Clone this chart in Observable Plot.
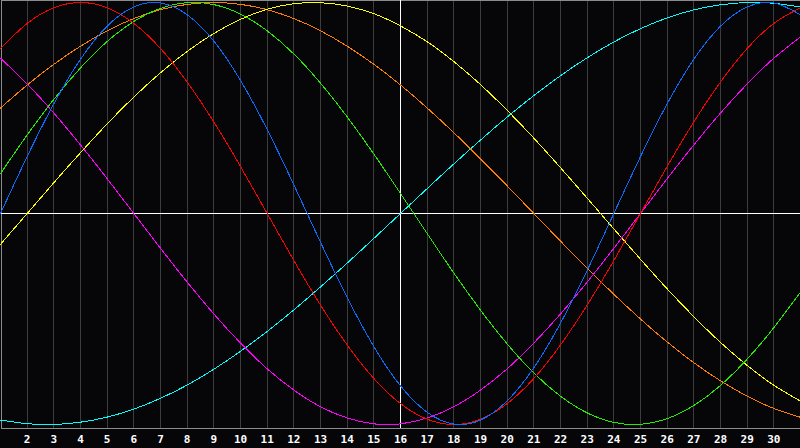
<!DOCTYPE html>
<html>
<head>
<meta charset="utf-8">
<script src="https://cdn.jsdelivr.net/npm/d3@7"></script>
<script src="https://cdn.jsdelivr.net/npm/@observablehq/plot@0.6"></script>
<style>
  html, body { margin: 0; padding: 0; background: #060609; }
  #chart svg { display: block; }
</style>
</head>
<body>
<div id="chart"></div>
<script>
const days = [1,2,3,4,5,6,7,8,9,10,11,12,13,14,15,16,17,18,19,20,21,22,23,24,25,26,27,28,29,30,31];
const tickLabels = [2,3,4,5,6,7,8,9,10,11,12,13,14,15,16,17,18,19,20,21,22,23,24,25,26,27,28,29,30];
const today = 16;

const physical23 = [0,.27,.52,.731,.888,.979,.998,.942,.817,.631,.398,.136,-.136,-.398,-.631,-.817,-.942,-.998,-.979,-.888,-.731,-.52,-.27,0,.27,.52,.731,.888,.979,.998,.942];
const emotional28 = [.782,.901,.975,1,.975,.901,.782,.623,.434,.223,0,-.223,-.434,-.623,-.782,-.901,-.975,-1,-.975,-.901,-.782,-.623,-.434,-.223,0,.223,.434,.623,.782,.901,.975];
const intellectual33 = [.189,.372,.541,.690,.815,.910,.972,.999,.990,.945,.866,.756,.618,.458,.282,.095,-.095,-.282,-.458,-.618,-.756,-.866,-.945,-.990,-.999,-.972,-.910,-.815,-.690,-.541,-.372];
const intuitive38 = [.736,.614,.476,.325,.165,0,-.165,-.325,-.476,-.614,-.736,-.837,-.916,-.969,-.997,-.997,-.969,-.916,-.837,-.736,-.614,-.476,-.325,-.165,0,.165,.325,.476,.614,.736,.837];
const aesthetic43 = [-.146,0,.146,.288,.425,.552,.667,.768,.853,.920,.968,.994,.999,.983,.947,.889,.814,.720,.611,.489,.357,.217,.073,-.073,-.217,-.357,-.489,-.611,-.720,-.814,-.889];
const awareness48 = [.5,.609,.707,.793,.866,.924,.966,.991,1,.991,.966,.924,.866,.793,.707,.609,.5,.383,.259,.131,0,-.131,-.259,-.383,-.5,-.609,-.707,-.793,-.866,-.924,-.966];
const spiritual53 = [-.979,-.996,-1,-.989,-.965,-.927,-.876,-.813,-.738,-.653,-.559,-.457,-.348,-.235,-.118,0,.118,.235,.348,.457,.559,.653,.738,.813,.876,.927,.965,.989,1,.996,.979];

const seriesValues = [spiritual53, awareness48, aesthetic43, intuitive38, intellectual33, emotional28, physical23];
const seriesColors = ["#00ffff","#ff8000","#ffff00","#ff00ff","#22ee00","#ff0000","#0a6cff"];

const lineMarks = seriesValues.map((vals, i) =>
  Plot.line(days.map((d, j) => ({day: d, v: vals[j]})), {
    x: "day", y: "v", stroke: seriesColors[i], strokeWidth: 1,
    curve: "natural", shapeRendering: "crispEdges"
  })
);

const chart = Plot.plot({
  width: 800,
  height: 448,
  marginLeft: 0,
  marginRight: 0,
  marginTop: 2,
  marginBottom: 24,
  style: {background: "#060609", color: "white"},
  x: {domain: [1, 31], label: null},
  y: {domain: [-1, 1], label: null, axis: null},
  marks: [
    Plot.ruleX(tickLabels, {x: d => d, stroke: "#3c3c3c", strokeWidth: 1, insetTop: -2, insetBottom: -4, shapeRendering: "crispEdges"}),
    Plot.frame({stroke: "#8c8c8c", insetTop: -2, insetBottom: -4, insetLeft: 0.5, insetRight: 0.5, shapeRendering: "crispEdges"}),
    Plot.ruleY([0], {stroke: "white", strokeWidth: 1, shapeRendering: "crispEdges"}),
    Plot.ruleX([today], {stroke: "white", strokeWidth: 1, insetTop: -2, insetBottom: -4, shapeRendering: "crispEdges"}),
    ...lineMarks,
    Plot.axisX(tickLabels, {
      label: null, tickSize: 0, tickPadding: 11, tickFormat: d => String(d),
      fontSize: 11, fontWeight: "bold", fontFamily: "DejaVu Sans Mono", fill: "white"
    })
  ]
});
document.getElementById("chart").appendChild(chart);
</script>
</body>
</html>
